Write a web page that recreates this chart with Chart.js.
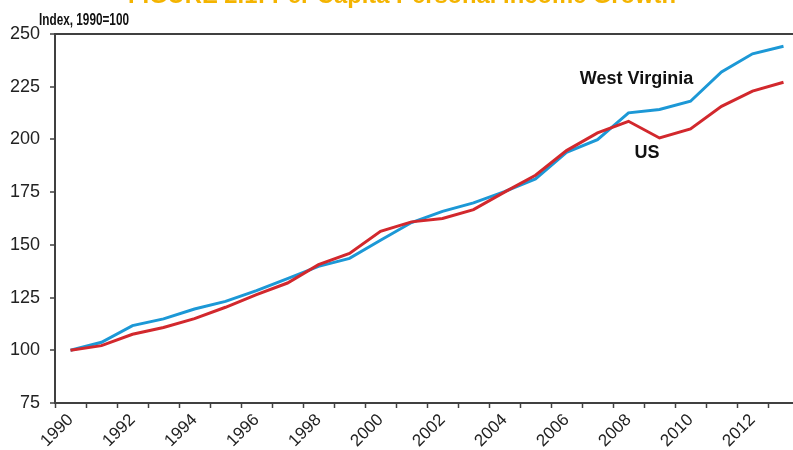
<!DOCTYPE html>
<html>
<head>
<meta charset="utf-8">
<script src="https://cdn.jsdelivr.net/npm/chart.js@4.4.1/dist/chart.umd.min.js"></script>
<style>
  html, body { margin: 0; padding: 0; background: #fff; overflow: hidden; }
  #wrap { width: 810px; height: 450px; position: relative; }
</style>
</head>
<body>
<div id="wrap"><canvas id="incomeChart"></canvas></div>
<script>
// Per capita personal income, indexed to 1990 = 100
const years = ['1990', '1991', '1992', '1993', '1994', '1995', '1996', '1997',
               '1998', '1999', '2000', '2001', '2002', '2003', '2004', '2005',
               '2006', '2007', '2008', '2009', '2010', '2011', '2012', '2013'];
const westVirginia = [100, 103.8, 111.7, 114.9, 119.6, 123.2, 128.3, 134.0,
                      139.8, 143.6, 152.2, 160.6, 165.9, 169.9, 175.2, 181.3,
                      193.9, 199.9, 212.6, 214.2, 218.1, 232.0, 240.6, 244.2];
const us = [100, 102.2, 107.6, 110.8, 115.0, 120.4, 126.4, 131.9,
            140.6, 145.9, 156.4, 160.9, 162.5, 166.7, 175.0, 183.0,
            194.7, 203.1, 208.6, 200.7, 205.0, 215.7, 222.9, 227.1];
const yTicks = [75, 100, 125, 150, 175, 200, 225, 250];

const axisColor = '#404040';
const tickFont = { family: 'Liberation Sans, Arial, sans-serif', size: 18 };

// Title, unit caption and the in-chart series names
const textPlugin = {
    id: 'chartText',
    afterDraw(chart) {
        const ctx = chart.ctx;
        const x = chart.scales.x;
        const y = chart.scales.y;
        ctx.save();

        ctx.fillStyle = '#F4B400';
        ctx.font = 'bold 24px "Liberation Sans", Arial, sans-serif';
        ctx.textAlign = 'left';
        ctx.textBaseline = 'alphabetic';
        ctx.fillText('FIGURE 2.1: Per Capita Personal Income Growth', 128, 3, 548);

        ctx.fillStyle = '#111';
        ctx.font = 'bold 17px "Liberation Sans", Arial, sans-serif';
        ctx.fillText('Index, 1990=100', 39, 25, 90);

        ctx.font = 'bold 18px "Liberation Sans", Arial, sans-serif';
        ctx.textAlign = 'center';
        ctx.textBaseline = 'middle';
        ctx.fillText('West Virginia', x.getPixelForValue(18.26), y.getPixelForValue(228.5));
        ctx.fillText('US', x.getPixelForValue(18.6), y.getPixelForValue(193.5));

        ctx.restore();
    }
};

new Chart(document.getElementById('incomeChart').getContext('2d'), {
    type: 'line',
    data: {
        labels: years,
        datasets: [
            {
                label: 'US',
                data: us,
                borderColor: '#D2282D',
                borderWidth: 3,
                pointRadius: 0,
                tension: 0,
                fill: false
            },
            {
                label: 'West Virginia',
                data: westVirginia,
                borderColor: '#1C98D6',
                borderWidth: 3,
                pointRadius: 0,
                tension: 0,
                fill: false
            }
        ]
    },
    options: {
        responsive: true,
        maintainAspectRatio: false,
        animation: false,
        layout: { padding: { top: 34, right: 11, left: 0, bottom: 0 } },
        plugins: {
            legend: { display: false },
            tooltip: { enabled: false }
        },
        scales: {
            x: {
                type: 'category',
                offset: true,
                grid: {
                    offset: true,
                    drawOnChartArea: false,
                    tickLength: 5,
                    tickColor: axisColor,
                    tickWidth: 1.5
                },
                border: { color: axisColor, width: 2 },
                ticks: {
                    autoSkip: false,
                    maxRotation: 45,
                    minRotation: 45,
                    padding: 2,
                    color: '#222',
                    font: { family: 'Liberation Sans, Arial, sans-serif', size: 17 },
                    callback: function(value, index) {
                        return index % 2 === 0 ? years[index] : '';
                    }
                },
                afterFit: function(scale) { scale.height = 47; }
            },
            y: {
                min: 75,
                max: 250,
                afterBuildTicks: function(scale) {
                    scale.ticks = yTicks.map(v => ({ value: v }));
                },
                grid: {
                    color: c => (c.tick && c.tick.value === 250 ? axisColor : 'transparent'),
                    lineWidth: 2,
                    tickLength: 5,
                    tickColor: axisColor,
                    tickWidth: 1.5
                },
                border: { color: axisColor, width: 2 },
                ticks: {
                    padding: 10,
                    color: '#222',
                    font: tickFont
                },
                afterFit: function(scale) { scale.width = 55; }
            }
        }
    },
    plugins: [textPlugin]
});
</script>
</body>
</html>
